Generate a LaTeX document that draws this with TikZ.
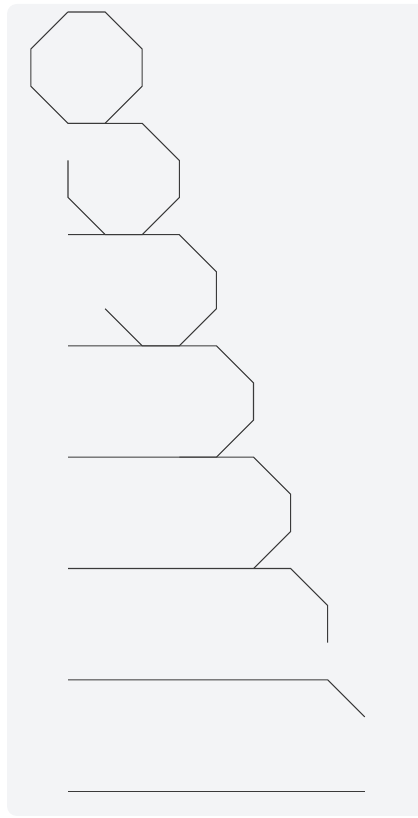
\documentclass[tikz,border=0pt]{standalone}
\usepackage{tikz}
\definecolor{panelgray}{HTML}{F3F4F6}
\definecolor{edgegray}{HTML}{3A3A3A}
\tikzset{
  bgpanel/.style={fill=panelgray, rounded corners=7.5pt},
  edgeline/.style={draw=edgegray, line width=0.8pt, line join=miter},
}

\begin{document}
\begin{tikzpicture}
    \useasboundingbox (-1.833,0.323) rectangle (9.407,-21.725);
    % ---------------- panel ----------------
    \fill[bgpanel] (-1.644,0.216) rectangle (9.9,-21.67);
    % ---------------- octagon rolled out along its base, one side per row ----------------
    \foreach \k in {0,...,7} {
      \pgfmathtruncatemacro{\nleft}{8-\k}
      \draw[edgeline] (0,-3*\k) -- ++(\k,0)
        \foreach \i in {1,...,\nleft} { -- ++({-45*(\i-1)}:{1+(sqrt(2)-1)*(1-mod(\i,2))}) };
    }
\end{tikzpicture}
\end{document}
